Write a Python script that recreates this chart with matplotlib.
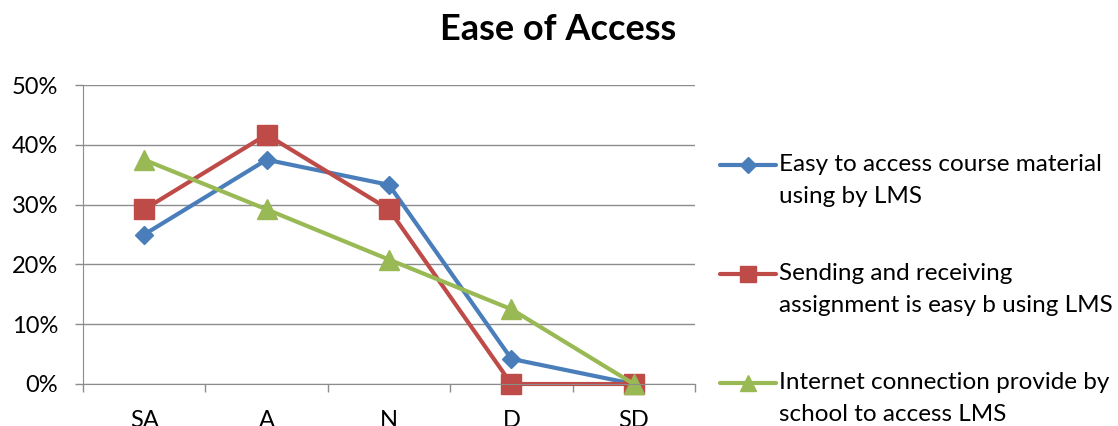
import numpy as np
import matplotlib.pyplot as plt
from matplotlib.lines import Line2D
from matplotlib.ticker import FixedLocator, PercentFormatter

plt.rcParams['font.family'] = ['Lato', 'DejaVu Sans']

categories = ['SA', 'A', 'N', 'D', 'SD']
easy_access = [25.0, 37.5, 33.3, 4.2, 0.0]
sending = [29.2, 41.7, 29.2, 0.0, 0.0]
internet = [37.5, 29.2, 20.8, 12.5, 0.0]

labels = ['Easy to access course material\nusing by LMS',
          'Sending and receiving\nassignment is easy b using LMS',
          'Internet connection provide by\nschool to access LMS']
colors = ['#4A7EBB', '#BE4B48', '#98B954']
markers = ['D', 's', '^']
msizes = [9.5, 14, 14]

W, H = 1118, 426
fig = plt.figure(figsize=(W / 100, H / 100), dpi=100)
ax = fig.add_axes([83 / W, 1 - 384 / H, (695 - 83) / W, (384 - 85) / H])

x = np.arange(len(categories))
for vals, lab, c, m, ms in zip([easy_access, sending, internet], labels, colors, markers, msizes):
    ax.plot(x, vals, color=c, lw=3, marker=m, markersize=ms, label=lab, clip_on=False)

ax.set_xlim(-0.5, len(categories) - 0.5)
ax.set_ylim(0, 50)
ax.set_yticks(np.arange(0, 51, 10))
ax.yaxis.set_major_formatter(PercentFormatter(decimals=0))
ax.grid(axis='y', color='#8c8c8c', lw=1)
ax.set_axisbelow(True)

ax.set_xticks(x)
ax.set_xticklabels(categories)
ax.xaxis.set_minor_locator(FixedLocator(np.arange(-0.5, len(categories), 1.0)))
ax.tick_params(axis='x', which='major', length=0, pad=19, labelsize=17)
ax.tick_params(axis='x', which='minor', length=6, color='#8c8c8c', width=1)
ax.tick_params(axis='y', length=6, color='#8c8c8c', width=1, pad=12, labelsize=17)

for s in ['top', 'right']:
    ax.spines[s].set_visible(False)
ax.spines['left'].set_color('#8c8c8c')
ax.spines['bottom'].set_color('#8c8c8c')

fig.text(558 / W, 1 - 29 / H, 'Ease of Access', ha='center', va='center', fontsize=26, fontweight='bold')

# legend drawn by hand so the handle sits on the first text line
for i, (lab, c, m, ms) in enumerate(zip(labels, colors, markers, msizes)):
    yc = 1 - (165 + 109 * i) / H
    fig.add_artist(Line2D([720 / W, 776 / W], [yc, yc], color=c, lw=3,
                          solid_capstyle='round', transform=fig.transFigure))
    fig.add_artist(Line2D([748 / W], [yc], color=c, marker=m, markersize=ms * 0.85,
                          transform=fig.transFigure))
    fig.text(779 / W, yc + 11 / H, lab, ha='left', va='top', fontsize=17.5, linespacing=1.65)

fig.savefig('out.png', dpi=100)
